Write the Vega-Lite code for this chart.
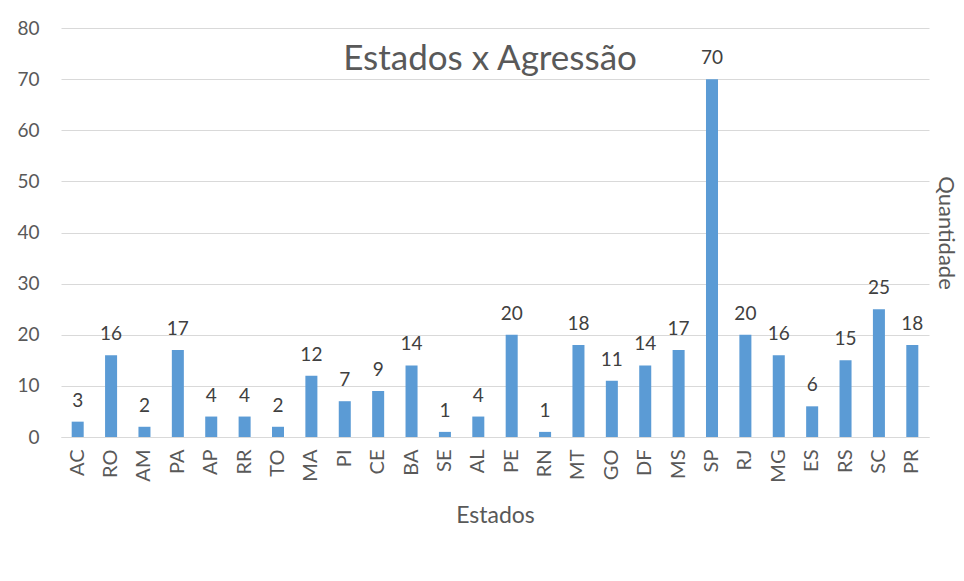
{
  "$schema": "https://vega.github.io/schema/vega-lite/v6.json",
  "width": 868,
  "height": 409,
  "autosize": {"type": "none"},
  "padding": {"left": 61, "top": 28, "right": 35, "bottom": 144},
  "background": "white",
  "config": {"view": {"stroke": null}, "font": "Lato"},
  "title": {"text": "Estados x Agressão", "fontSize": 35, "fontWeight": "normal", "color": "#595959", "font": "Lato", "anchor": "middle", "offset": -58, "dx": -5},
  "data": {"values": [
    {"estado": "AC", "q": 3}, {"estado": "RO", "q": 16}, {"estado": "AM", "q": 2}, {"estado": "PA", "q": 17},
    {"estado": "AP", "q": 4}, {"estado": "RR", "q": 4}, {"estado": "TO", "q": 2}, {"estado": "MA", "q": 12},
    {"estado": "PI", "q": 7}, {"estado": "CE", "q": 9}, {"estado": "BA", "q": 14}, {"estado": "SE", "q": 1},
    {"estado": "AL", "q": 4}, {"estado": "PE", "q": 20}, {"estado": "RN", "q": 1}, {"estado": "MT", "q": 18},
    {"estado": "GO", "q": 11}, {"estado": "DF", "q": 14}, {"estado": "MS", "q": 17}, {"estado": "SP", "q": 70},
    {"estado": "RJ", "q": 20}, {"estado": "MG", "q": 16}, {"estado": "ES", "q": 6}, {"estado": "RS", "q": 15},
    {"estado": "SC", "q": 25}, {"estado": "PR", "q": 18}
  ]},
  "encoding": {
    "x": {"field": "estado", "type": "nominal", "sort": null,
      "scale": {"paddingInner": 0.64, "paddingOuter": 0.32},
      "axis": {"title": "Estados", "titleFontSize": 23, "titleFontWeight": "normal", "titleColor": "#595959", "titlePadding": 22,
        "labelAngle": -90, "labelFontSize": 20, "labelColor": "#595959", "labelPadding": 12,
        "ticks": false, "domainColor": "#d9d9d9", "domainWidth": 1.2, "grid": false}}
  },
  "layer": [
    {
      "mark": {"type": "bar", "color": "#5b9bd5"},
      "encoding": {
        "y": {"field": "q", "type": "quantitative", "scale": {"domain": [0, 80]},
          "axis": {"title": null, "values": [0,10,20,30,40,50,60,70,80], "labelFontSize": 19, "labelColor": "#595959",
            "labelPadding": 22, "ticks": false, "domain": false, "gridColor": "#d9d9d9", "gridWidth": 1.2}}
      }
    },
    {
      "mark": {"type": "text", "baseline": "alphabetic", "dy": -15, "fontSize": 19, "color": "#404040"},
      "encoding": {
        "y": {"field": "q", "type": "quantitative", "scale": {"domain": [0, 80]},
          "axis": {"orient": "right", "title": "Quantidade", "titleFontSize": 22, "titleFontWeight": "normal", "titleColor": "#595959",
            "labels": false, "ticks": false, "domain": false, "grid": false, "titlePadding": 4}},
        "text": {"field": "q", "type": "quantitative"}
      }
    }
  ],
  "resolve": {"axis": {"y": "independent"}}
}
